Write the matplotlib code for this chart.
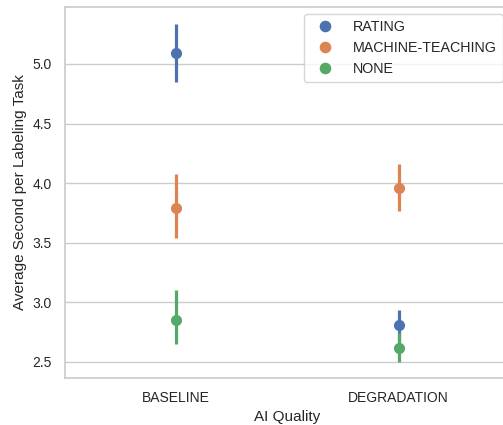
import numpy as np
import matplotlib
matplotlib.use("Agg")
from matplotlib import pyplot as plt
import seaborn as sns

sns.set_theme(style="whitegrid")
plt.rcParams["font.family"] = ["Liberation Sans", "DejaVu Sans"]

# AI quality conditions on the x axis
categories = ["BASELINE", "DEGRADATION"]
groups = ["RATING", "MACHINE-TEACHING", "NONE"]

# mean seconds per labeling task, with confidence interval bounds
means = {
    "RATING": [5.09, 2.81],
    "MACHINE-TEACHING": [3.79, 3.96],
    "NONE": [2.855, 2.62],
}
ci_low = {
    "RATING": [4.85, 2.68],
    "MACHINE-TEACHING": [3.54, 3.77],
    "NONE": [2.65, 2.50],
}
ci_high = {
    "RATING": [5.335, 2.94],
    "MACHINE-TEACHING": [4.08, 4.157],
    "NONE": [3.10, 2.74],
}

colors = sns.color_palette("deep")[:3]

fig = plt.figure(figsize=(5.03, 4.25), dpi=100)
ax = fig.add_axes([0.1292, 0.1113, 0.8847, 0.8722])

x = np.arange(len(categories))
for group, color in zip(groups, colors):
    ax.vlines(x, ci_low[group], ci_high[group], color=color, linewidth=2.3)
    ax.plot(x, means[group], "o", color=color, markersize=7, label=group)

ax.set_xticks(x)
ax.set_xticklabels(categories)
ax.set_xlim(-0.5, 1.5)
ax.set_ylim(2.368, 5.478)
ax.set_yticks([2.5, 3.0, 3.5, 4.0, 4.5, 5.0])
ax.tick_params(labelsize=10)
ax.xaxis.grid(False)
ax.set_xlabel("AI Quality", fontsize=11)
ax.set_ylabel("Average Second per Labeling Task", fontsize=11)
ax.legend(loc="upper right", fontsize=10.3, numpoints=1, markerscale=1.05,
          handletextpad=1.0)

plt.savefig("out.png", dpi=100)
